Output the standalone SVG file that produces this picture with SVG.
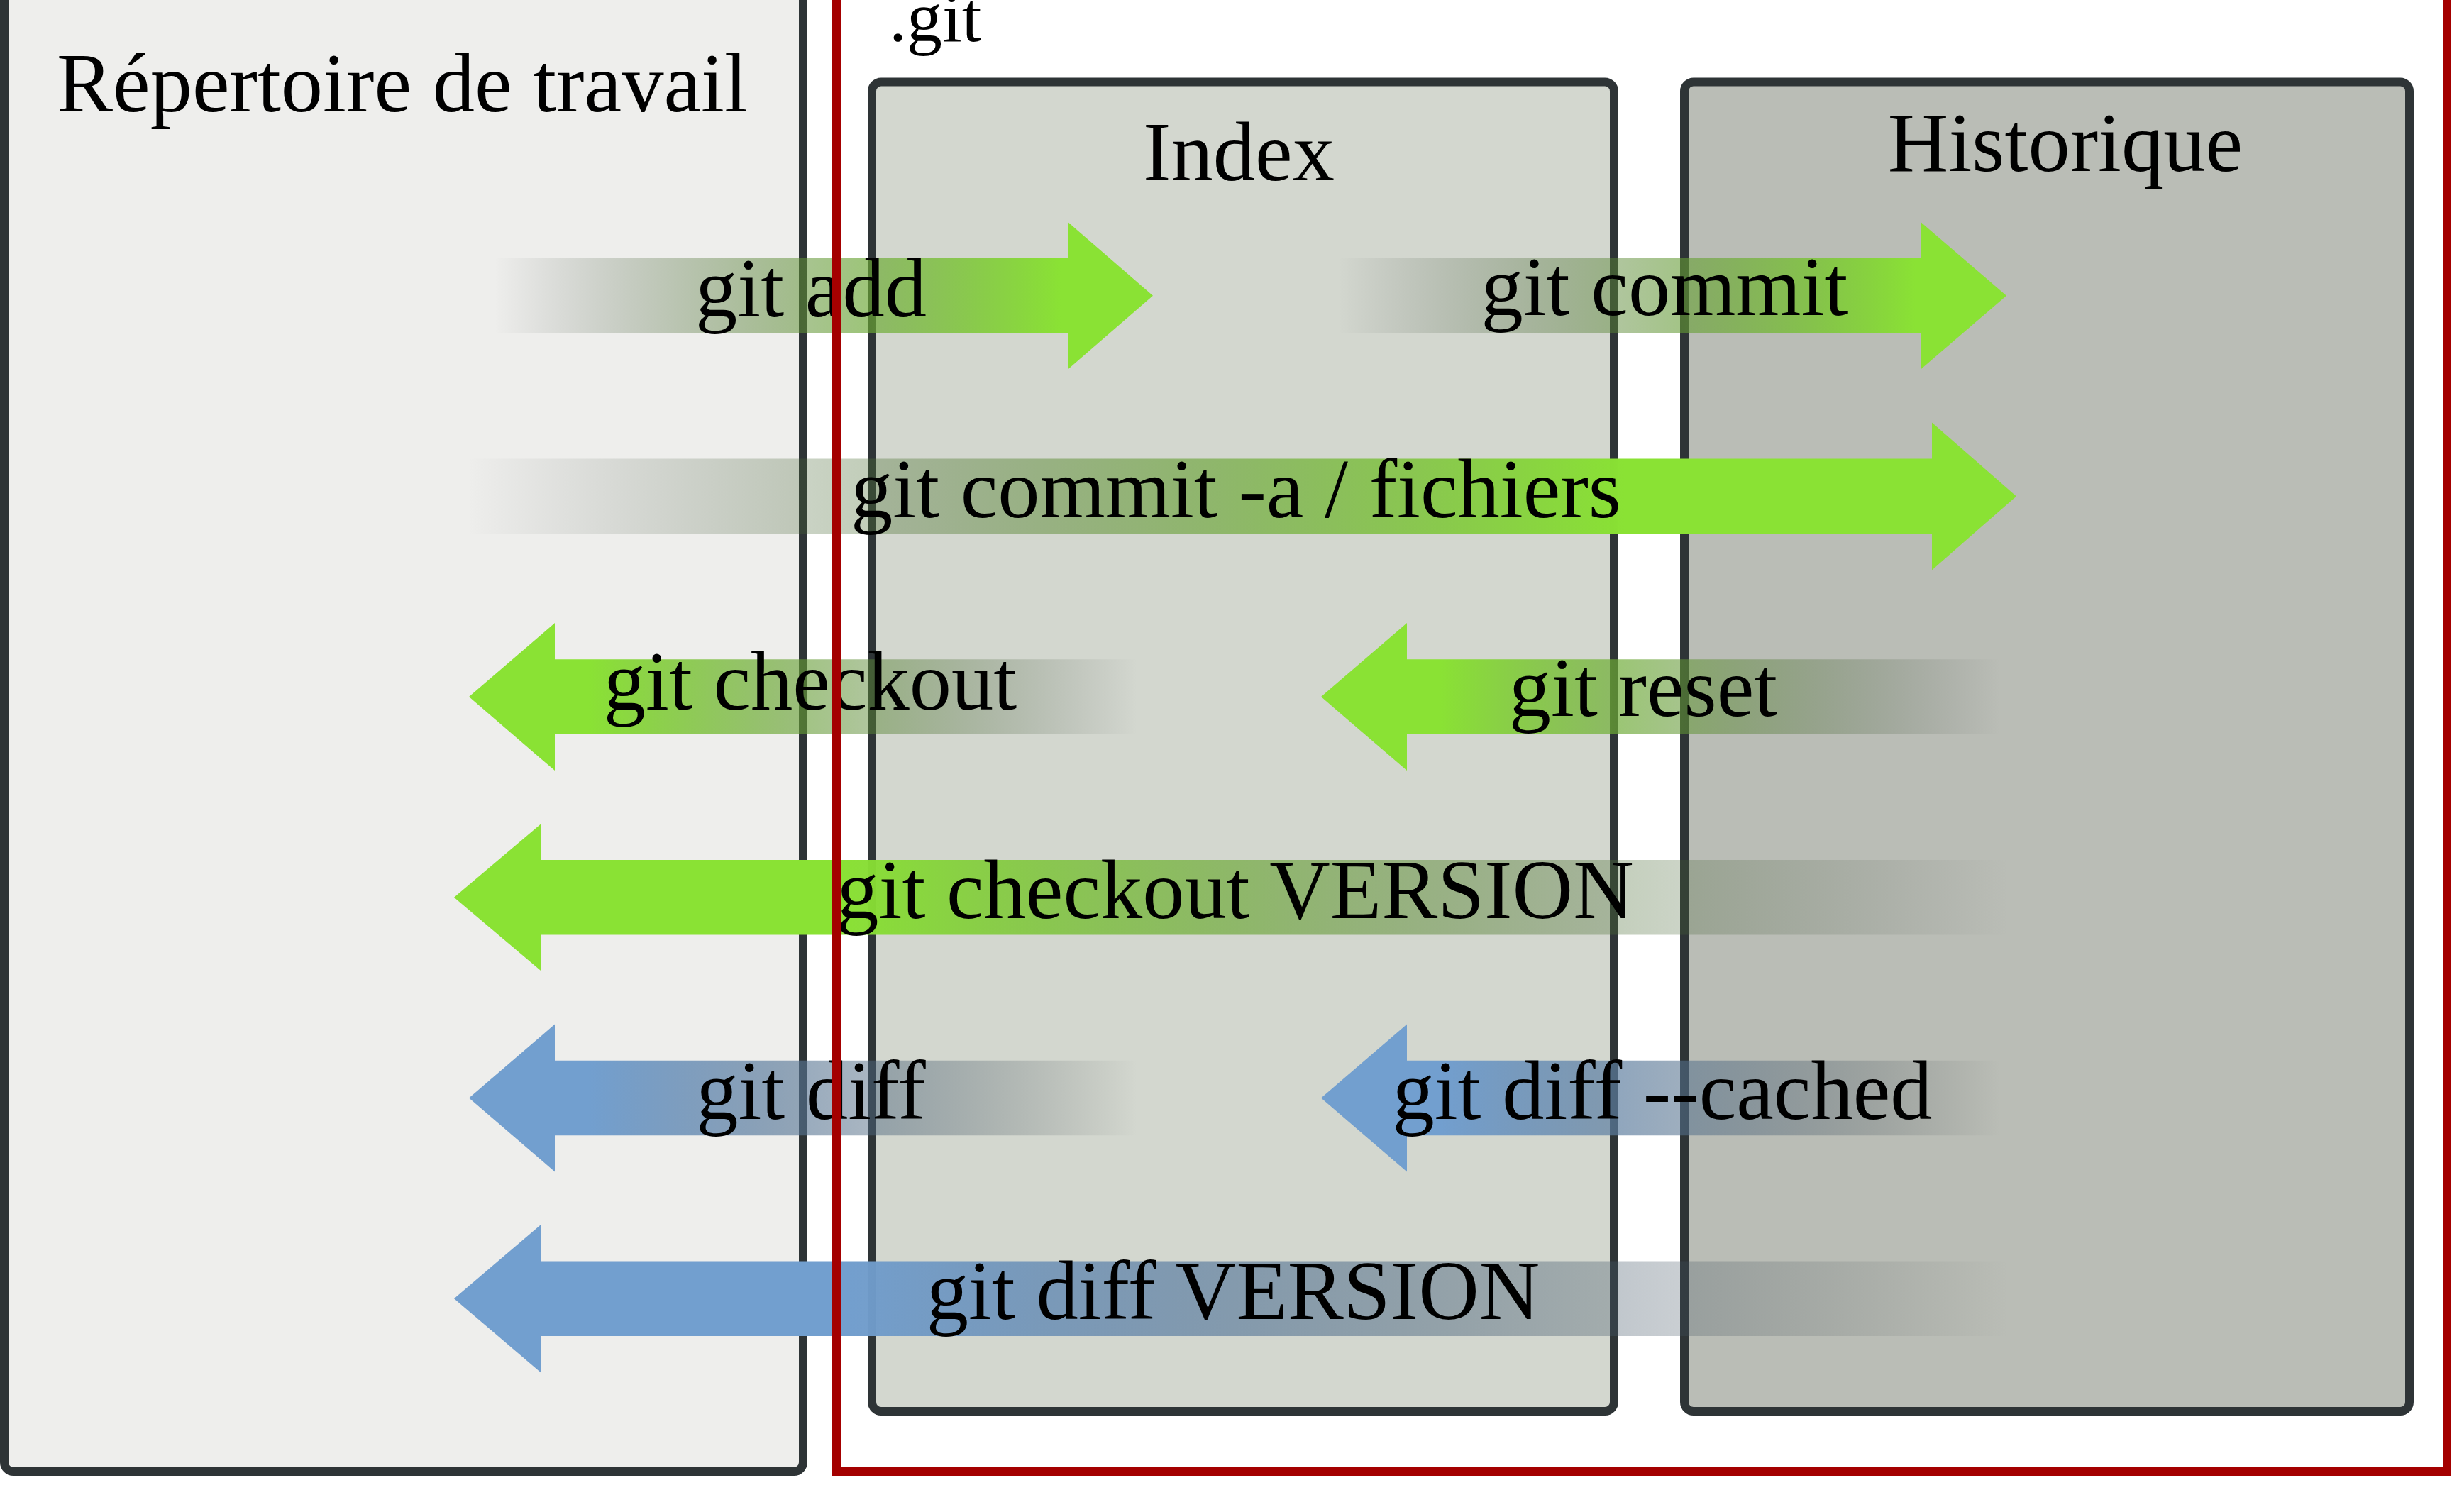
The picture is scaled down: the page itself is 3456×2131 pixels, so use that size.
<svg xmlns="http://www.w3.org/2000/svg" xmlns:xlink="http://www.w3.org/1999/xlink" width="3456" height="2131" viewBox="0 0 3456 2131">
<style>
.box{stroke:#2e3436;stroke-width:12}
.lbl{font-family:"Liberation Serif","Times New Roman",serif;font-size:118.5px;fill:#000}
.mid{text-anchor:middle}
</style>
<defs>
<linearGradient id="gG" gradientUnits="userSpaceOnUse">
<stop offset="0" stop-color="#2e3436" stop-opacity="0"/>
<stop offset="0.25" stop-color="#456036" stop-opacity="0.25"/>
<stop offset="0.5" stop-color="#5c8b35" stop-opacity="0.5"/>
<stop offset="0.75" stop-color="#73b734" stop-opacity="0.75"/>
<stop offset="1" stop-color="#8ae234" stop-opacity="1"/>
</linearGradient>
<linearGradient id="gB" gradientUnits="userSpaceOnUse">
<stop offset="0" stop-color="#2e3436" stop-opacity="0"/>
<stop offset="0.25" stop-color="#3f4f5c" stop-opacity="0.25"/>
<stop offset="0.5" stop-color="#506a83" stop-opacity="0.5"/>
<stop offset="0.75" stop-color="#6184a9" stop-opacity="0.75"/>
<stop offset="1" stop-color="#729fcf" stop-opacity="1"/>
</linearGradient>
<linearGradient id="gAdd" xlink:href="#gG" x1="697" y1="0" x2="1495" y2="0"/>
<linearGradient id="gCommit" xlink:href="#gG" x1="1886" y1="0" x2="2700" y2="0"/>
<linearGradient id="gCommitA" xlink:href="#gG" x1="659" y1="0" x2="2290" y2="0"/>
<linearGradient id="gCheckout" xlink:href="#gG" x1="1603" y1="0" x2="830" y2="0"/>
<linearGradient id="gReset" xlink:href="#gG" x1="2820" y1="0" x2="2030" y2="0"/>
<linearGradient id="gCheckoutV" xlink:href="#gG" x1="2832" y1="0" x2="1178" y2="0"/>
<linearGradient id="gDiff" xlink:href="#gB" x1="1603" y1="0" x2="830" y2="0"/>
<linearGradient id="gCached" xlink:href="#gB" x1="2820" y1="0" x2="2030" y2="0"/>
<linearGradient id="gDiffV" xlink:href="#gB" x1="2832" y1="0" x2="1178" y2="0"/>
</defs>
<rect width="3456" height="2131" fill="#fff"/>
<g id="working-dir">
<rect class="box" x="6" y="-50" width="1126" height="2124" rx="13" fill="#eeeeec"/>
<text class="lbl" x="80" y="157">Répertoire de travail</text>
</g>
<g id="index">
<rect class="box" x="1229" y="115.5" width="1046" height="1873.5" rx="13" fill="#d3d7cf"/>
<text class="lbl mid" x="1746" y="254">Index</text>
</g>
<g id="historique">
<rect class="box" x="2374" y="115.5" width="1022" height="1873.5" rx="13" fill="#babdb6"/>
<text class="lbl mid" x="2911" y="241">Historique</text>
</g>
<g id="connectors">
<g id="arrow-add"><path d="M697,363.9 H1505 V312.7 L1625,416.7 L1505,520.7 V469.5 H697 Z" fill="url(#gAdd)"/><text class="lbl mid" x="1143" y="446">git add</text></g>
<g id="arrow-commit"><path d="M1886,363.9 H2707 V312.7 L2828,416.7 L2707,520.7 V469.5 H1886 Z" fill="url(#gCommit)"/><text class="lbl mid" x="2346" y="444">git commit</text></g>
<g id="arrow-commit-a"><path d="M659,646.6 H2723 V595.4 L2842,699.4 L2723,803.4 V752.2 H659 Z" fill="url(#gCommitA)"/><text class="lbl mid" x="1742" y="729">git commit -a / fichiers</text></g>
<g id="arrow-checkout"><path d="M661,982.1 L782,878.1 V929.3 H1603 V1034.9 H782 V1086.1 Z" fill="url(#gCheckout)"/><text class="lbl mid" x="1142" y="1000">git checkout</text></g>
<g id="arrow-reset"><path d="M1862,982.1 L1983,878.1 V929.3 H2820 V1034.9 H1983 V1086.1 Z" fill="url(#gReset)"/><text class="lbl mid" x="2316" y="1009">git reset</text></g>
<g id="arrow-checkout-version"><path d="M640,1264.8 L763,1160.8 V1212 H2832 V1317.6 H763 V1368.8 Z" fill="url(#gCheckoutV)"/><text class="lbl mid" x="1741" y="1294">git checkout VERSION</text></g>
<g id="arrow-diff"><path d="M661,1547.5 L782,1443.5 V1494.7 H1603 V1600.3 H782 V1651.5 Z" fill="url(#gDiff)"/><text class="lbl mid" x="1143" y="1577">git diff</text></g>
<g id="arrow-diff-cached"><path d="M1862,1547.5 L1983,1443.5 V1494.7 H2820 V1600.3 H1983 V1651.5 Z" fill="url(#gCached)"/><text class="lbl mid" x="2343" y="1577">git diff --cached</text></g>
<g id="arrow-diff-version"><path d="M640,1830.2 L762,1726.2 V1777.4 H2832 V1883 H762 V1934.2 Z" fill="url(#gDiffV)"/><text class="lbl mid" x="1738" y="1859">git diff VERSION</text></g>
</g>
<g id="git-repo">
<rect x="1179" y="-50" width="2270" height="2124" fill="none" stroke="#a40000" stroke-width="12"/>
<text class="lbl" x="1253" y="58" style="font-size:100px">.git</text>
</g>
</svg>
